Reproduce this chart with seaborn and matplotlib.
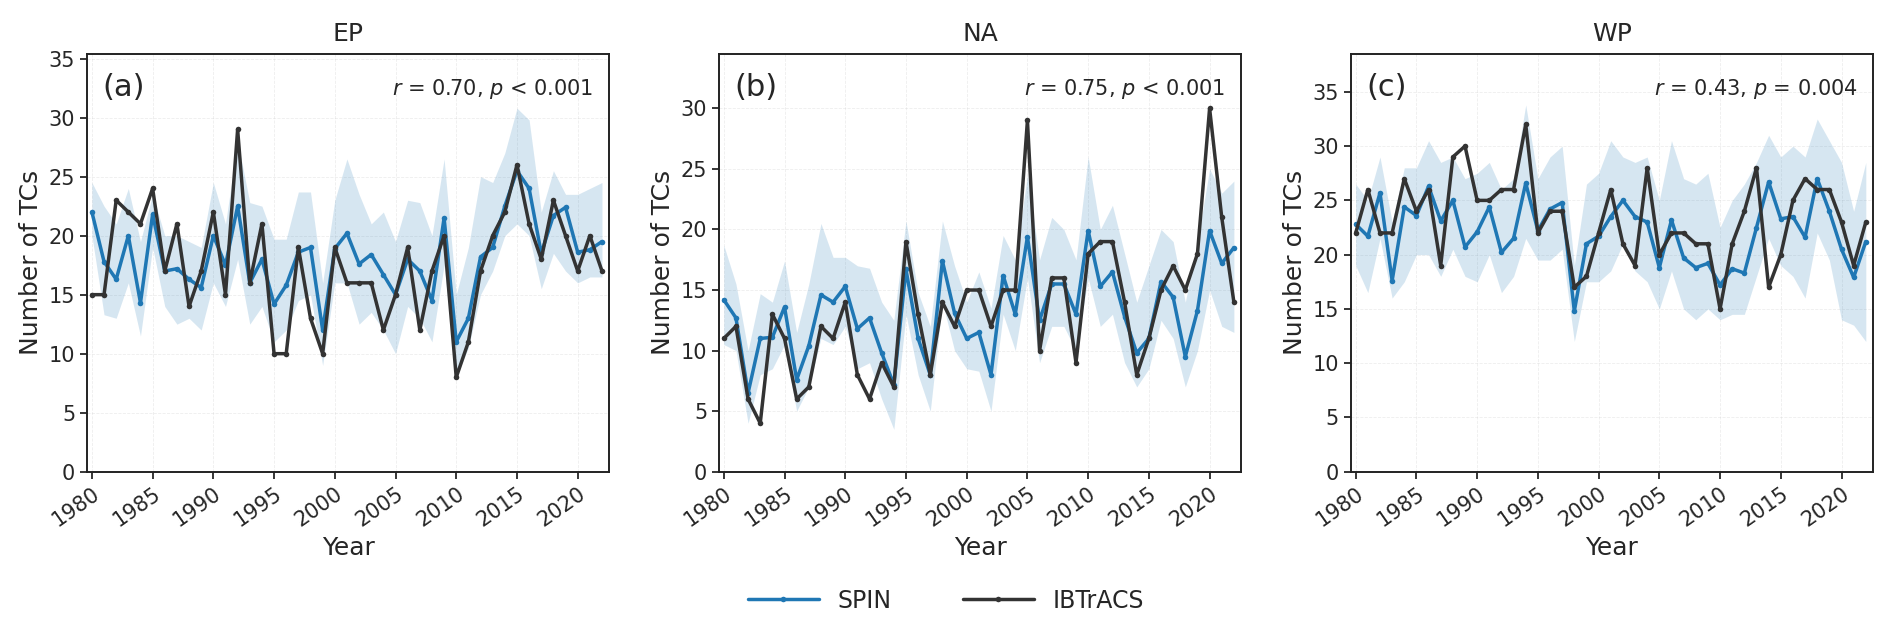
import numpy as np
import pandas as pd
import matplotlib
matplotlib.use("Agg")
import matplotlib.pyplot as plt
import seaborn as sns

years = list(range(1980, 2023))

ep_ibtracs = [15,15,23,22,21,24,17,21,14,17,22,15,29,16,21,10,10,19,13,10,19,16,16,16,12,15,19,12,17,20,8,11,17,20,22,26,21,18,23,20,17,20,17]
ep_spin = [22,17.8,16.3,20,14.3,21.8,17,17.2,16.3,15.6,20,17.5,22.5,16,18,14.2,15.8,18.6,19,12,18.9,20.2,17.6,18.4,16.7,15,18,17,14.5,21.5,11,13,18.2,19,22.5,25.5,24,18.5,21.7,22.4,18.6,18.8,19.5]
ep_upper = [24.5,22.5,21,24,19.5,23.5,20,20,19.5,19,24.5,21,28,22.8,22.5,19.7,19.7,23.7,23.7,16,23,26.5,23.5,21,22,19.5,23,22.8,20,26.5,15,19,25,24.5,27,30.8,29.8,22,25.5,23.5,23.5,24,24.5]
ep_lower = [20,13.3,13,16,11.5,19,14,12.5,13,12,16,14,18,12.5,14,11,12,14.5,15,9,16,16,12.5,13.5,12,10,14,13,11,17.5,8,10.5,15,17,20,21,20,15.5,18.5,17,16,16.5,16.5]

na_ibtracs = [11,12,6,4,13,11,6,7,12,11,14,8,6,9,7,19,13,8,14,12,15,15,12,15,15,29,10,16,16,9,18,19,19,14,8,11,15,17,15,18,30,21,14]
na_spin = [14.2,12.7,6.5,11,11.1,13.6,7.6,10.4,14.6,14,15.3,11.8,12.7,9.8,7.2,16.7,11,8,17.4,13.1,11,11.5,8,16.2,13,19.4,12.5,15.5,15.5,13,19.9,15.3,16.5,12.8,9.8,11,15.7,14.4,9.5,13.3,19.9,17.2,18.5]
na_upper = [18.7,15.5,10,14.7,14,17.4,11.5,15.5,20.5,17.7,17.7,17,16.8,14,12.5,20.7,14.8,12,20.7,17,14,16.5,13.5,19.5,17.5,24.5,17.5,21,20,17.5,26,20,22,18,14,17,20,19,14,19,25,23,24]
na_lower = [10.5,10,4,8,8.5,10.5,5,7,11,10.5,12,8.5,9,6,3.5,13,8,5,14,10,8.5,8.3,5,13,10,16,9,12,12,10,16,12,13,9,7,8.5,12.5,11,7,10,15,12,11.5]

wp_ibtracs = [22,26,22,22,27,24,26,19,29,30,25,25,26,26,32,22,24,24,17,18,22,26,21,19,28,20,22,22,21,21,15,21,24,28,17,20,25,27,26,26,23,19,23]
wp_spin = [22.8,21.7,25.7,17.6,24.4,23.6,26.3,23.1,25,20.7,22.1,24.4,20.2,21.5,26.6,22.2,24.2,24.8,14.8,21,21.7,23.5,25,23.5,23,18.8,23.2,19.7,18.8,19.2,17.2,18.7,18.3,22.5,26.7,23.3,23.5,21.6,27,24,20.5,17.9,21.2]
wp_upper = [26.5,25,29,23,28,28,30.5,28.5,29,27,27.5,28.5,26,27,33.8,27,29,30,19,26.5,27.5,30.5,29,28.5,29,25,30.5,27,26.5,27.5,22.5,25,26.5,28.5,31,29,30,29,32.5,30.5,28.5,24,28.5]
wp_lower = [19,16.5,21.5,16,17.5,20,20,18,20.5,18,17.5,20,16.5,18,21.5,19.5,19.5,20.5,12,17.5,17.5,18.5,21,18.5,17.5,15,18.5,15,14,15,14,14.5,14.5,18,21.5,19,18,16,22,19.5,14,13.5,12]

titles = ["EP", "NA", "WP"]
letters = ["(a)", "(b)", "(c)"]
stats = [r"$r$ = 0.70, $p$ < 0.001", r"$r$ = 0.75, $p$ < 0.001", r"$r$ = 0.43, $p$ = 0.004"]
ytops = [35.4, 34.5, 38.5]
data = [(ep_spin, ep_ibtracs, ep_lower, ep_upper),
        (na_spin, na_ibtracs, na_lower, na_upper),
        (wp_spin, wp_ibtracs, wp_lower, wp_upper)]

sns.set_style("ticks")
plt.rcParams['font.family'] = ['DejaVu Sans']
fig, axes = plt.subplots(1, 3, figsize=(18.92, 6.34), dpi=100)
fig.subplots_adjust(left=0.046, right=0.99, top=0.915, bottom=0.256, wspace=0.21)

blue = "#1f77b4"
dark = "#333333"
for ax, (sp, ib, lo, up), t, l, s, yt in zip(axes, data, titles, letters, stats, ytops):
    df = pd.DataFrame({"Year": years, "SPIN": sp, "IBTrACS": ib, "lo": lo, "up": up})
    ax.fill_between(df["Year"], df["lo"], df["up"], color=blue, alpha=0.18, lw=0)
    sns.lineplot(data=df, x="Year", y="SPIN", ax=ax, color=blue, lw=2.5, marker="o", markersize=4, markeredgewidth=0, label="SPIN")
    sns.lineplot(data=df, x="Year", y="IBTrACS", ax=ax, color=dark, lw=2.5, marker="o", markersize=4, markeredgewidth=0, label="IBTrACS")
    ax.set_xticks(range(1980, 2021, 5))
    ax.set_yticks(range(0, 36, 5))
    ax.set_xlim(1979.6, 2022.6)
    ax.set_ylim(0, yt)
    ax.tick_params(axis="x", labelsize=15, rotation=35, width=1.3, length=5)
    for lab in ax.get_xticklabels():
        lab.set_ha("right")
        lab.set_rotation_mode("anchor")
    ax.tick_params(axis="y", labelsize=15, width=1.3, length=5)
    ax.grid(True, ls="--", lw=0.6, alpha=0.35)
    ax.set_title(t, fontsize=18, pad=9)
    ax.set_xlabel("Year", fontsize=18)
    ax.set_ylabel("Number of TCs", fontsize=18)
    ax.text(0.03, 0.955, l, transform=ax.transAxes, fontsize=22, va="top")
    ax.text(0.97, 0.945, s, transform=ax.transAxes, fontsize=15, va="top", ha="right")
    for sp_ in ax.spines.values():
        sp_.set_linewidth(1.4)
        sp_.set_color("#222222")
    ax.get_legend().remove()

handles, labels = axes[0].get_legend_handles_labels()
fig.legend(handles, labels, loc="lower center", ncol=2, frameon=False, fontsize=17,
           bbox_to_anchor=(0.5, 0.0), handlelength=3, columnspacing=3)
fig.savefig("out.png", dpi=100)
